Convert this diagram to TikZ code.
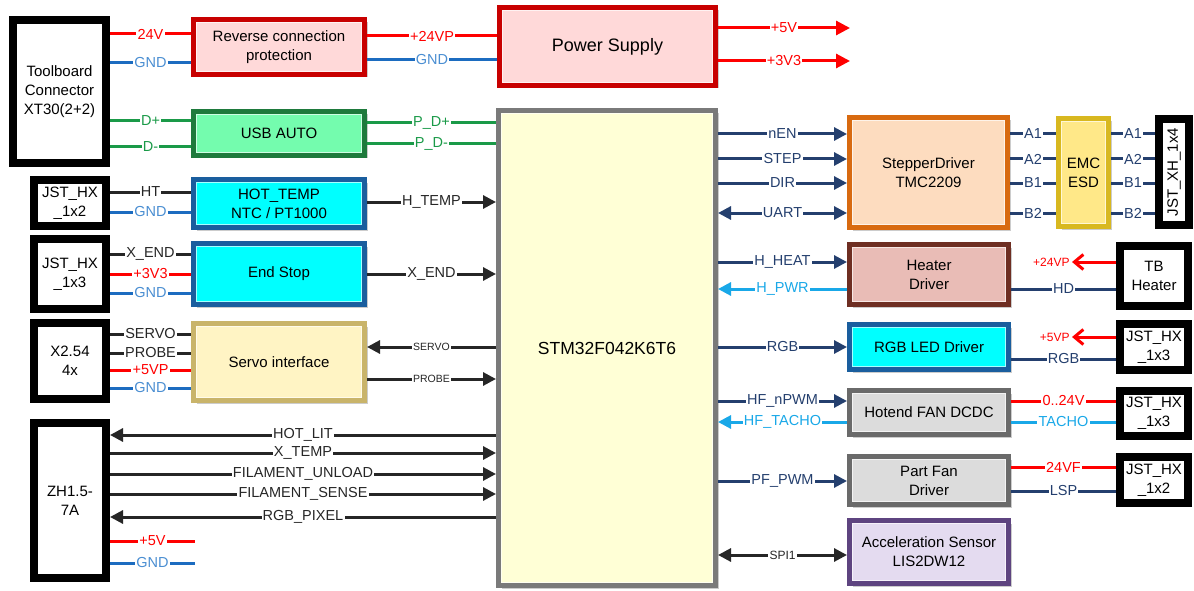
\documentclass[tikz,border=0pt]{standalone}
\usepackage{fontspec}
\setmainfont{Liberation Sans}
\usetikzlibrary{arrows.meta,shadows}

\definecolor{cRed}{HTML}{FF0000}
\definecolor{cGnd}{HTML}{1C6CC0}
\definecolor{cGndT}{HTML}{4A8ED2}
\definecolor{cGrn}{HTML}{1A9A48}
\definecolor{cNv}{HTML}{243F6E}
\definecolor{cLB}{HTML}{19A8E8}
\definecolor{cDk}{HTML}{262626}
\definecolor{cRevD}{HTML}{C80000}\definecolor{cRevF}{HTML}{FFD9D9}
\definecolor{cUsbD}{HTML}{1E7A3C}\definecolor{cUsbF}{HTML}{74FCAE}
\definecolor{cCyD}{HTML}{1A5E9E}\definecolor{cCyF}{HTML}{00FFFF}
\definecolor{cSrvD}{HTML}{C9B46A}\definecolor{cSrvF}{HTML}{FFF4C4}
\definecolor{cMcuD}{HTML}{7A7A7A}\definecolor{cMcuF}{HTML}{FFFFD6}
\definecolor{cStpD}{HTML}{D86A10}\definecolor{cStpF}{HTML}{FDDCBF}
\definecolor{cEmcD}{HTML}{D8B820}\definecolor{cEmcF}{HTML}{FFE888}
\definecolor{cHtD}{HTML}{6E2E22}\definecolor{cHtF}{HTML}{E9BCB6}
\definecolor{cGyD}{HTML}{6A6A6A}\definecolor{cGyF}{HTML}{DCDCDC}
\definecolor{cAccD}{HTML}{5E4480}\definecolor{cAccF}{HTML}{E4DBF0}

\newcommand\bxfont{\fontsize{15}{19}\selectfont}
\newcommand\labf{\fontsize{14.5}{15}\selectfont}
\newcommand\smf{\fontsize{12}{13}\selectfont}
\newcommand\tinyf{\fontsize{10.5}{11}\selectfont}
\newcommand\psf{\fontsize{18}{20}\selectfont}
\newcommand\mcuf{\fontsize{17.5}{20}\selectfont}

\newcommand\MkBox[7]{\node[#6,minimum width={#4pt-#2pt-5pt},minimum height={#5pt-#3pt-5pt}] (#1) at ({(#2+#4)/2},{(#3+#5)/2}) {#7};}
\newcommand\MkConn[6]{\node[conn,minimum width={#4pt-#2pt-8pt},minimum height={#5pt-#3pt-8pt}] (#1) at ({(#2+#4)/2},{(#3+#5)/2}) {#6};}

\tikzset{
 bx/.style 2 args={draw=#1,fill=#2,line width=5pt,inner sep=0pt,align=center,font=\bxfont,
   drop shadow={shadow xshift=3pt,shadow yshift=-3pt,opacity=.4},
   path picture={\draw[line width=1.4pt,draw=#2!35!white] ([xshift=3.2pt,yshift=-3.2pt]path picture bounding box.north west) rectangle ([xshift=-3.2pt,yshift=3.2pt]path picture bounding box.south east);}},
 conn/.style={draw=black,fill=white,line width=8pt,inner sep=0pt,align=center,font=\bxfont,
   drop shadow={shadow xshift=3pt,shadow yshift=-3pt,opacity=.4}},
 w/.style={line width=3pt,draw=#1},
 lab/.style={fill=white,inner sep=1.2pt,font=\labf,text=cDk},
 arr/.style={-{Triangle[length=13pt,width=13pt]}},
 darr/.style={{Triangle[length=13pt,width=13pt]}-{Triangle[length=13pt,width=13pt]}},
 bigarr/.style={-{Triangle[length=14pt,width=14pt]}},
 barb/.style={-{Straight Barb[length=9pt,width=15pt]}},
}

\begin{document}
\begin{tikzpicture}[x=1pt,y=-1pt]
\path[use as bounding box,fill=white] (0,0) rectangle (1194,591);

% connectors
\MkConn{tb}{9}{16}{110}{167}{Toolboard\\Connector\\XT30(2+2)}
\MkConn{j12}{30}{176}{110}{230}{JST\_HX\\\_1x2}
\MkConn{j13}{30}{235}{110}{313}{JST\_HX\\\_1x3}
\MkConn{x254}{30}{319}{110}{403}{X2.54\\4x}
\MkConn{zh}{30}{419}{110}{582}{ZH1.5-\\7A}
\MkConn{xh4}{1155}{115}{1193}{229}{\rotatebox{90}{JST\_XH\_1x4}}
\MkConn{tbh}{1116}{242}{1192}{310}{TB\\Heater}
\MkConn{jrgb}{1116}{320}{1192}{374}{JST\_HX\\\_1x3}
\MkConn{jfan}{1116}{387}{1192}{440}{JST\_HX\\\_1x3}
\MkConn{jpf}{1116}{453}{1192}{507}{JST\_HX\\\_1x2}

% blocks
\MkBox{rev}{191}{17}{367}{77}{bx={cRevD}{cRevF}}{Reverse connection\\protection}
\MkBox{ps}{497}{5}{718}{88}{bx={cRevD}{cRevF},font=\psf}{Power Supply}
\MkBox{usb}{191}{109}{367}{158}{bx={cUsbD}{cUsbF}}{USB AUTO}
\MkBox{hot}{191}{177}{367}{230}{bx={cCyD}{cCyF}}{HOT\_TEMP\\NTC / PT1000}
\MkBox{endst}{191}{241}{367}{307}{bx={cCyD}{cCyF}}{End Stop}
\MkBox{servo}{191}{321}{367}{403}{bx={cSrvD}{cSrvF}}{Servo interface}
\MkBox{mcu}{496}{108}{718}{588}{bx={cMcuD}{cMcuF},font=\mcuf}{STM32F042K6T6}
\MkBox{step}{847}{115}{1010}{230}{bx={cStpD}{cStpF}}{StepperDriver\\TMC2209}
\MkBox{emc}{1056}{116}{1111}{229}{bx={cEmcD}{cEmcF}}{EMC\\ESD}
\MkBox{heat}{847}{242}{1011}{307}{bx={cHtD}{cHtF}}{Heater\\Driver}
\MkBox{rgb}{847}{322}{1011}{372}{bx={cCyD}{cCyF}}{RGB LED Driver}
\MkBox{hfan}{847}{388}{1011}{437}{bx={cGyD}{cGyF}}{Hotend FAN DCDC}
\MkBox{pfan}{847}{454}{1011}{507}{bx={cGyD}{cGyF}}{Part Fan\\Driver}
\MkBox{acc}{847}{518}{1011}{586}{bx={cAccD}{cAccF}}{Acceleration Sensor\\LIS2DW12}

% left side wires
\draw[w=cRed] (tb.east|-0,34) -- node[lab,text=cRed]{24V} (rev.west|-0,34);
\draw[w=cGnd] (tb.east|-0,63) -- node[lab,text=cGndT]{GND} (rev.west|-0,63);
\draw[w=cGrn] (tb.east|-0,121) -- node[lab,text=cGrn]{D+} (usb.west|-0,121);
\draw[w=cGrn] (tb.east|-0,147) -- node[lab,text=cGrn]{D-} (usb.west|-0,147);
\draw[w=cRed] (rev.east|-0,36) -- node[lab,text=cRed]{+24VP} (ps.west|-0,36);
\draw[w=cGnd] (rev.east|-0,60) -- node[lab,text=cGndT]{GND} (ps.west|-0,60);
\draw[w=cGrn] (usb.east|-0,123) -- node[lab,text=cGrn]{P\_D+} (mcu.west|-0,123);
\draw[w=cGrn] (usb.east|-0,144) -- node[lab,text=cGrn]{P\_D-} (mcu.west|-0,144);
\draw[w=cDk] (j12.east|-0,192) -- node[lab]{HT} (hot.west|-0,192);
\draw[w=cGnd] (j12.east|-0,212) -- node[lab,text=cGndT]{GND} (hot.west|-0,212);
\draw[w=cDk,arr] (hot.east|-0,202) -- node[lab]{H\_TEMP} (mcu.west|-0,202);
\draw[w=cDk] (j13.east|-0,254) -- node[lab]{X\_END} (endst.west|-0,254);
\draw[w=cRed] (j13.east|-0,274) -- node[lab,text=cRed]{+3V3} (endst.west|-0,274);
\draw[w=cGnd] (j13.east|-0,293) -- node[lab,text=cGndT]{GND} (endst.west|-0,293);
\draw[w=cDk,arr] (endst.east|-0,274) -- node[lab]{X\_END} (mcu.west|-0,274);
\draw[w=cDk] (x254.east|-0,334) -- node[lab]{SERVO} (servo.west|-0,334);
\draw[w=cDk] (x254.east|-0,353) -- node[lab]{PROBE} (servo.west|-0,353);
\draw[w=cRed] (x254.east|-0,370) -- node[lab,text=cRed]{+5VP} (servo.west|-0,370);
\draw[w=cGnd] (x254.east|-0,388) -- node[lab,text=cGndT]{GND} (servo.west|-0,388);
\draw[w=cDk,arr] (mcu.west|-0,347) -- node[lab,font=\tinyf]{SERVO} (servo.east|-0,347);
\draw[w=cDk,arr] (servo.east|-0,379) -- node[lab,font=\tinyf]{PROBE} (mcu.west|-0,379);
\draw[w=cDk,arr] (mcu.west|-0,435) -- node[lab]{HOT\_LIT} (zh.east|-0,435);
\draw[w=cDk,arr] (zh.east|-0,453) -- node[lab]{X\_TEMP} (mcu.west|-0,453);
\draw[w=cDk,arr] (zh.east|-0,474) -- node[lab]{FILAMENT\_UNLOAD} (mcu.west|-0,474);
\draw[w=cDk,arr] (zh.east|-0,494) -- node[lab]{FILAMENT\_SENSE} (mcu.west|-0,494);
\draw[w=cDk,arr] (mcu.west|-0,517) -- node[lab]{RGB\_PIXEL} (zh.east|-0,517);
\coordinate (v5e) at (195,541);
\coordinate (gnde) at (195,563);
\draw[w=cRed] (zh.east|-0,541) -- node[lab,text=cRed]{+5V} (v5e);
\draw[w=cGnd] (zh.east|-0,563) -- node[lab,text=cGndT]{GND} (gnde);

% power supply outputs
\coordinate (p5) at (850,28);
\coordinate (p33) at (850,61);
\draw[w=cRed,bigarr] (ps.east|-0,28) -- node[lab,text=cRed]{+5V} (p5);
\draw[w=cRed,bigarr] (ps.east|-0,61) -- node[lab,text=cRed]{+3V3} (p33);

% stepper
\draw[w=cNv,arr] (mcu.east|-0,134) -- node[lab,text=cNv]{nEN} (step.west|-0,134);
\draw[w=cNv,arr] (mcu.east|-0,159) -- node[lab,text=cNv]{STEP} (step.west|-0,159);
\draw[w=cNv,arr] (mcu.east|-0,183) -- node[lab,text=cNv]{DIR} (step.west|-0,183);
\draw[w=cNv,darr] (mcu.east|-0,213) -- node[lab,text=cNv]{UART} (step.west|-0,213);
\foreach \yy/\tt in {134/A1,159/A2,183/B1,213/B2}{
 \draw[w=cNv] (step.east|-0,\yy) -- node[lab,text=cNv]{\tt} (emc.west|-0,\yy);
 \draw[w=cNv] (emc.east|-0,\yy) -- node[lab,text=cNv]{\tt} (xh4.west|-0,\yy);
}

% heater
\draw[w=cNv,arr] (mcu.east|-0,262) -- node[lab,text=cNv]{H\_HEAT} (heat.west|-0,262);
\draw[w=cLB,arr] (heat.west|-0,289) -- node[lab,text=cLB]{H\_PWR} (mcu.east|-0,289);
\coordinate (t24) at (1072,262);
\draw[w=cRed,barb] (tbh.west|-0,262) -- (t24) node[left,inner sep=1pt,text=cRed,font=\smf]{+24VP};
\draw[w=cNv] (heat.east|-0,289) -- node[lab,text=cNv]{HD} (tbh.west|-0,289);

% rgb
\draw[w=cNv,arr] (mcu.east|-0,347) -- node[lab,text=cNv]{RGB} (rgb.west|-0,347);
\coordinate (t5) at (1072,337);
\draw[w=cRed,barb] (jrgb.west|-0,337) -- (t5) node[left,inner sep=1pt,text=cRed,font=\smf]{+5VP};
\draw[w=cNv] (rgb.east|-0,359) -- node[lab,text=cNv]{RGB} (jrgb.west|-0,359);

% hotend fan
\draw[w=cNv,arr] (mcu.east|-0,401) -- node[lab,text=cNv]{HF\_nPWM} (hfan.west|-0,401);
\draw[w=cLB,arr] (hfan.west|-0,422) -- node[lab,text=cLB]{HF\_TACHO} (mcu.east|-0,422);
\draw[w=cRed] (hfan.east|-0,401) -- node[lab,text=cRed]{0..24V} (jfan.west|-0,401);
\draw[w=cLB] (hfan.east|-0,422) -- node[lab,text=cLB]{TACHO} (jfan.west|-0,422);

% part fan
\draw[w=cNv,arr] (mcu.east|-0,481) -- node[lab,text=cNv]{PF\_PWM} (pfan.west|-0,481);
\draw[w=cRed] (pfan.east|-0,467) -- node[lab,text=cRed]{24VF} (jpf.west|-0,467);
\draw[w=cNv] (pfan.east|-0,491) -- node[lab,text=cNv]{LSP} (jpf.west|-0,491);

% accel
\draw[w=cDk,darr] (mcu.east|-0,555) -- node[lab,font=\smf]{SPI1} (acc.west|-0,555);
\end{tikzpicture}
\end{document}
